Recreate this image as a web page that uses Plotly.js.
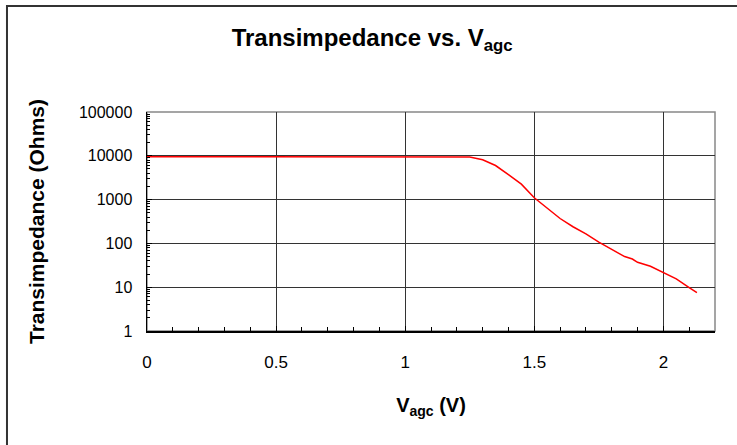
<!DOCTYPE html>
<html>
<head>
<meta charset="utf-8">
<script src="https://cdn.plot.ly/plotly-3.0.1.min.js"></script>
<style>html,body{margin:0;padding:0;background:#fff;}#chart{width:737px;height:445px;}</style>
</head>
<body>
<div id="chart"></div>
<script>
var vagc = [0, 0.1, 0.2, 0.3, 0.4, 0.5, 0.6, 0.7, 0.8, 0.9, 1.0, 1.1, 1.2, 1.25, 1.3, 1.35, 1.4, 1.45, 1.5, 1.55, 1.6, 1.65, 1.7, 1.75, 1.8, 1.85, 1.88, 1.9, 1.95, 2.0, 2.05, 2.1, 2.13];
var transimpedance = [9500, 9500, 9500, 9500, 9500, 9500, 9500, 9500, 9500, 9500, 9500, 9500, 9500, 9400, 8100, 6000, 3700, 2250, 1100, 640, 370, 240, 165, 107, 72, 50, 44, 37, 30, 22, 15.5, 9.8, 7.5];
var xTickVals = [0, 0.5, 1, 1.5, 2];
var xTickText = ['0', '0.5', '1', '1.5', '2'];

var font = 'Liberation Sans, Arial, sans-serif';
var trace = {
  x: vagc, y: transimpedance, type: 'scatter', mode: 'lines',
  line: {color: '#ff0000', width: 1.5}, hoverinfo: 'skip'
};
var layout = {
  width: 737, height: 445,
  margin: {l: 147, r: 22, t: 112, b: 114},
  paper_bgcolor: '#fff', plot_bgcolor: '#fff',
  showlegend: false,
  font: {family: font, color: '#000', size: 15},
  title: {text: '<b>Transimpedance vs. V<sub>agc</sub></b>', font: {size: 24, family: font, color: '#000'},
          x: 0.505, xanchor: 'center', y: 0.915, yanchor: 'middle'},
  xaxis: {
    range: [0, 2.2], tickvals: xTickVals, ticktext: xTickText,
    ticks: 'inside', ticklen: 5, tickcolor: '#000',
    showgrid: true, gridcolor: '#333', gridwidth: 1,
    showline: true, linecolor: '#000', linewidth: 1.5,
    zeroline: false, ticklabelstandoff: 15,
    tickfont: {family: font, size: 17, color: '#000'},
    minor: {dtick: 0.1, ticks: 'inside', ticklen: 4, tickcolor: '#000', showgrid: false},
    title: {text: '<b>V<sub>agc</sub> (V)</b>', font: {family: font, size: 20, color: '#000'}, standoff: 27}
  },
  yaxis: {
    type: 'log', range: [0, 5], dtick: 1, exponentformat: 'none', tickformat: 'd',
    ticks: 'inside', ticklen: 5, tickcolor: '#000',
    showgrid: true, gridcolor: '#333', gridwidth: 1,
    showline: true, linecolor: '#000', linewidth: 1.5,
    zeroline: false, ticklabelstandoff: 10,
    tickfont: {family: font, size: 16, color: '#000'},
    minor: {dtick: 'D1', ticks: 'inside', ticklen: 3, tickcolor: '#000', showgrid: false},
    title: {text: '<b>Transimpedance (Ohms)</b>', font: {family: font, size: 21, color: '#000'}, standoff: 28}
  },
  shapes: [
    {type: 'rect', xref: 'paper', yref: 'paper', x0: 0, x1: 1, y0: 0, y1: 1,
     line: {color: '#888', width: 1.5}, layer: 'below'},
    {type: 'path', xref: 'paper', yref: 'paper',
     path: 'M -0.2465 -0.6 L -0.2465 1.484 L 1.1 1.484',
     line: {color: '#333', width: 2}}
  ]
};
Plotly.newPlot('chart', [trace], layout, {displayModeBar: false, staticPlot: true});
</script>
</body>
</html>
